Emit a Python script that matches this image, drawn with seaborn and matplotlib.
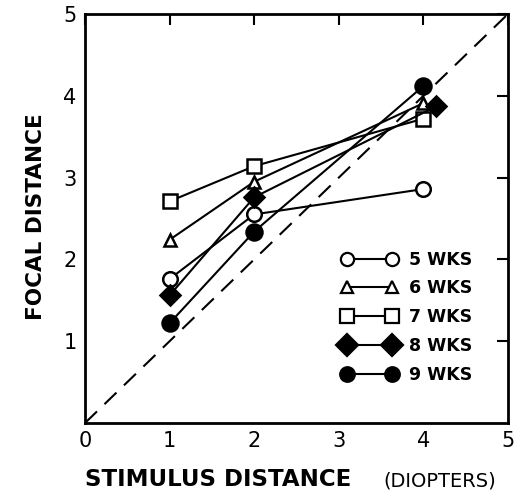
import matplotlib
matplotlib.use("Agg")
import matplotlib.pyplot as plt
import seaborn as sns
import pandas as pd
from matplotlib.lines import Line2D

sns.set_theme(style="white")
plt.rcParams['font.family'] = ['DejaVu Sans']
plt.rcParams['text.color'] = 'black'
plt.rcParams['axes.labelcolor'] = 'black'
plt.rcParams['xtick.color'] = 'black'
plt.rcParams['ytick.color'] = 'black'

# ---- data ----
ages = ["5 WKS", "6 WKS", "7 WKS", "8 WKS", "9 WKS"]
x_5wk = [1, 2, 4]
y_5wk = [1.76, 2.55, 2.86]
x_6wk = [1, 2, 4]
y_6wk = [2.24, 2.95, 3.91]
x_7wk = [1, 2, 4]
y_7wk = [2.71, 3.14, 3.72]
x_8wk = [1, 2, 4.15]
y_8wk = [1.56, 2.76, 3.87]
x_9wk = [1, 2, 4]
y_9wk = [1.22, 2.34, 4.12]
ticks = [0, 1, 2, 3, 4, 5]
tick_labels = ["0", "1", "2", "3", "4", "5"]
ytick_vals = [1, 2, 3, 4, 5]
ytick_labels = ["1", "2", "3", "4", "5"]

xs = [x_5wk, x_6wk, x_7wk, x_8wk, x_9wk]
ys = [y_5wk, y_6wk, y_7wk, y_8wk, y_9wk]
rows = []
for a, xx, yy in zip(ages, xs, ys):
    for xv, yv in zip(xx, yy):
        rows.append({"age": a, "x": xv, "y": yv})
df = pd.DataFrame(rows)

styles = {
    "5 WKS": dict(marker="o", mfc="white", ms=10.5),
    "6 WKS": dict(marker="^", mfc="white", ms=8.5),
    "7 WKS": dict(marker="s", mfc="white", ms=10.5),
    "8 WKS": dict(marker="D", mfc="black", ms=10.5),
    "9 WKS": dict(marker="o", mfc="black", ms=11.5),
}

fig = plt.figure(figsize=(5.22, 5.01), dpi=100)
ax = fig.add_axes([85/522, 1-423/501, (508-85)/522, (423-14)/501])

# identity dashed line
ax.plot([0, 5], [0, 5], color="black", lw=1.5, dashes=(8, 5), zorder=1)

for a in ages:
    sub = df[df["age"] == a]
    st = styles[a]
    sns.lineplot(data=sub, x="x", y="y", ax=ax, color="black", lw=1.5,
                 marker=st["marker"], markerfacecolor=st["mfc"],
                 markeredgecolor="black", markeredgewidth=1.8,
                 markersize=st["ms"], zorder=3, sort=False,
                 estimator=None)

leg_ms = {"5 WKS": 9.5, "6 WKS": 8, "7 WKS": 9.5, "8 WKS": 11, "9 WKS": 10.5}
handles = [Line2D([0], [0], color="black", lw=1.5, marker=styles[a]["marker"],
                  mfc=styles[a]["mfc"], mec="black", mew=1.6,
                  ms=leg_ms[a]) for a in ages]
leg = ax.legend(handles, ages, loc="upper left",
                bbox_to_anchor=(333/522, 1-242/501), bbox_transform=fig.transFigure,
                numpoints=2, frameon=False, handlelength=3.2, handletextpad=0.7,
                labelspacing=0.62, borderpad=0,
                prop=dict(size=12.5, weight="bold"))

ax.set_xlim(0, 5)
ax.set_ylim(0, 5)
ax.set_xticks(ticks)
ax.set_xticklabels(tick_labels)
ax.set_yticks(ytick_vals)
ax.set_yticklabels(ytick_labels)
ax.tick_params(axis="both", direction="in", length=8, width=1.5, labelsize=15,
               top=True, right=True, pad=6)
for s in ax.spines.values():
    s.set_linewidth(2)
    s.set_color("black")
ax.set_xlabel("")
ax.set_ylabel("")

fig.text(36/522, 1-217/501, "FOCAL DISTANCE", fontsize=15.5, fontweight="bold",
         rotation=90, ha="center", va="center")
fig.text(218/522, 1-479/501, "STIMULUS DISTANCE", fontsize=16.5, fontweight="bold",
         ha="center", va="center")
fig.text(440/522, 1-481/501, "(DIOPTERS)", fontsize=14,
         ha="center", va="center")

fig.savefig("out.png", dpi=100)
